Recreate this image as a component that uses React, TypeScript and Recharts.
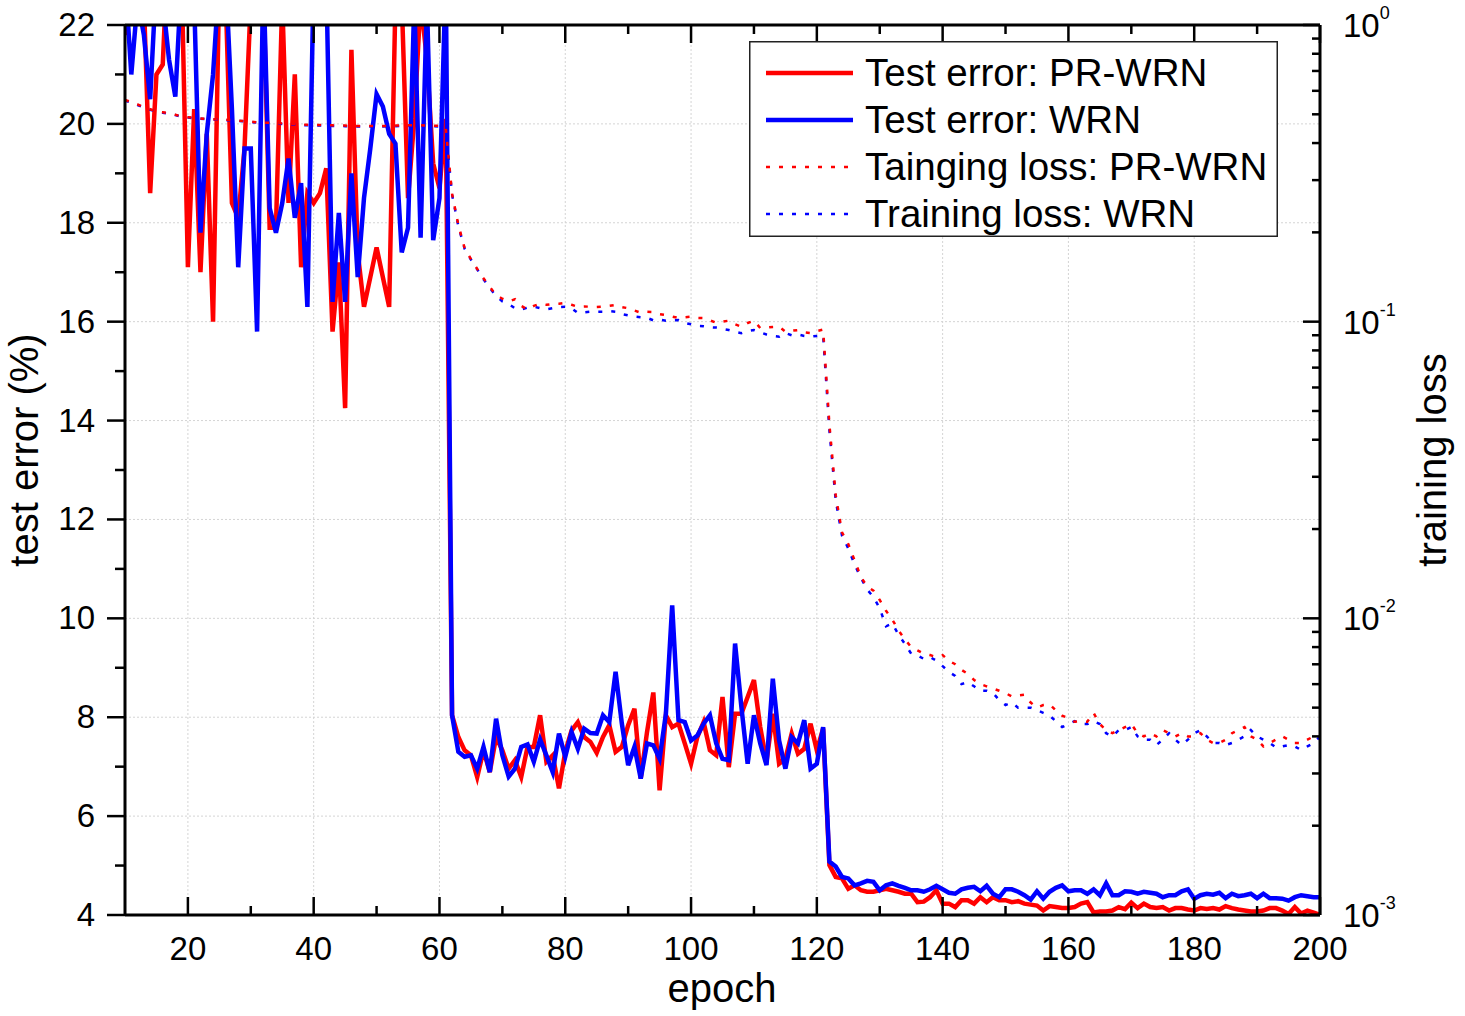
import { ComposedChart, Legend, Line, ReferenceLine, XAxis, YAxis } from "recharts";

const FONT = "'Liberation Sans', Arial, sans-serif";

// epochs on the x axis, 10 … 200
const epochs = Array.from({ length: 191 }, (_, i) => i + 10);

// test error (%), left axis
const prWrnError = [
  21.8, 23.0, 24.0, 22.5, 18.6, 21.0, 21.2, 24.0, 23.0, 23.0,
  17.1, 20.3, 17.0, 19.8, 16.0, 23.0, 22.6, 18.4, 18.1, 19.5,
  22.5, 23.0, 22.7, 17.9, 17.9, 22.5, 18.4, 21.0, 17.1, 18.6,
  18.4, 18.6, 19.1, 15.8, 17.2, 14.25, 21.5, 17.4, 16.3, 16.9,
  17.5, 16.9, 16.3, 22.5, 22.5, 18.5, 20.1, 22.5, 21.3, 19.2,
  18.7, 20.1, 8.04, 7.6, 7.33, 7.23, 6.79, 7.33, 6.89, 7.6,
  7.33, 6.96, 7.13, 6.79, 7.4, 7.4, 8.04, 7.1, 7.23, 6.56,
  7.3, 7.73, 7.9, 7.6, 7.5, 7.28, 7.6, 7.84, 7.3, 7.4,
  7.84, 8.17, 6.76, 7.7, 8.5, 6.52, 8.04, 7.8, 7.87, 7.47,
  7.06, 7.6, 7.9, 7.33, 7.23, 8.41, 6.99, 8.07, 8.07, 8.41,
  8.75, 7.8, 7.1, 8.07, 7.06, 7.16, 7.67, 7.26, 7.36, 7.87,
  7.33, 7.77, 5.01, 4.77, 4.74, 4.53, 4.6, 4.5, 4.47, 4.47,
  4.5, 4.53, 4.5, 4.47, 4.43, 4.43, 4.26, 4.27, 4.36, 4.5,
  4.23, 4.23, 4.16, 4.3, 4.3, 4.23, 4.36, 4.26, 4.36, 4.3,
  4.3, 4.26, 4.28, 4.23, 4.21, 4.19, 4.09, 4.18, 4.16, 4.14,
  4.14, 4.16, 4.23, 4.26, 4.05, 4.07, 4.07, 4.09, 4.16, 4.12,
  4.25, 4.14, 4.23, 4.16, 4.14, 4.16, 4.09, 4.14, 4.14, 4.11,
  4.09, 4.14, 4.12, 4.14, 4.11, 4.18, 4.14, 4.11, 4.09, 4.07,
  4.07, 4.09, 4.14, 4.14, 4.09, 4.02, 4.16, 4.03, 4.09, 4.05,
  4.0,
];

const wrnError = [
  23.0, 21.0, 22.5, 21.8, 20.5, 23.0, 22.5, 21.3, 20.55, 23.0,
  23.0, 22.5, 17.8, 19.8, 21.0, 23.0, 23.0, 20.3, 17.1, 19.5,
  19.5, 15.8, 23.0, 18.3, 17.8, 18.4, 19.3, 18.1, 18.8, 16.3,
  23.0, 23.0, 23.0, 16.4, 18.2, 16.4, 19.0, 16.9, 18.5, 19.5,
  20.6, 20.35, 19.8, 19.6, 17.4, 17.9, 22.5, 17.7, 22.5, 17.65,
  18.5, 23.0, 8.04, 7.3, 7.2, 7.23, 6.96, 7.4, 6.89, 7.97,
  7.23, 6.8, 6.96, 7.4, 7.45, 7.1, 7.55, 7.23, 6.89, 7.67,
  7.2, 7.7, 7.36, 7.77, 7.68, 7.67, 8.04, 7.9, 8.92, 7.87,
  7.03, 7.4, 6.76, 7.47, 7.43, 7.16, 8.07, 10.26, 7.94, 7.9,
  7.53, 7.63, 7.87, 8.04, 7.47, 7.16, 7.13, 9.49, 8.21, 7.06,
  8.04, 7.47, 7.03, 8.78, 7.53, 6.96, 7.6, 7.47, 7.94, 6.96,
  7.06, 7.8, 5.08, 4.98, 4.77, 4.74, 4.6, 4.64, 4.69, 4.67,
  4.5, 4.6, 4.64, 4.59, 4.55, 4.5, 4.5, 4.47, 4.52, 4.59,
  4.52, 4.45, 4.43, 4.52, 4.55, 4.57, 4.48, 4.59, 4.43, 4.36,
  4.52, 4.52, 4.47, 4.4, 4.31, 4.48, 4.33, 4.47, 4.55, 4.6,
  4.48, 4.5, 4.5, 4.43, 4.52, 4.4, 4.64, 4.4, 4.4, 4.48,
  4.47, 4.43, 4.47, 4.45, 4.43, 4.36, 4.4, 4.4, 4.48, 4.52,
  4.33, 4.4, 4.43, 4.41, 4.45, 4.34, 4.43, 4.38, 4.4, 4.43,
  4.34, 4.43, 4.34, 4.34, 4.33, 4.29, 4.36, 4.4, 4.38, 4.36,
  4.36,
];

// training loss, right (log) axis
const prWrnLoss = [
  0.559, 0.55, 0.54, 0.528, 0.52, 0.512, 0.508, 0.504, 0.498, 0.492,
  0.489, 0.486, 0.484, 0.482, 0.481, 0.48, 0.479, 0.478, 0.476, 0.474,
  0.472, 0.47, 0.469, 0.468, 0.467, 0.466, 0.464, 0.463, 0.462, 0.461,
  0.46, 0.46, 0.459, 0.459, 0.458, 0.458, 0.457, 0.457, 0.457, 0.457,
  0.457, 0.457, 0.457, 0.458, 0.458, 0.459, 0.46, 0.459, 0.458, 0.458,
  0.457, 0.45, 0.27, 0.212, 0.177, 0.1626, 0.1506, 0.14, 0.131, 0.123,
  0.1195, 0.117, 0.119, 0.113, 0.11, 0.113, 0.115, 0.114, 0.1147, 0.115,
  0.1156, 0.114, 0.1123, 0.1125, 0.1123, 0.112, 0.1123, 0.113, 0.1138, 0.112,
  0.111, 0.109, 0.1072, 0.108, 0.1078, 0.106, 0.1053, 0.104, 0.1029, 0.1035,
  0.104, 0.103, 0.1029, 0.101, 0.0992, 0.1, 0.1008, 0.098, 0.0962, 0.099,
  0.1008, 0.0952, 0.0955, 0.096, 0.0962, 0.0925, 0.0932, 0.0937, 0.092, 0.0915,
  0.093, 0.094, 0.045, 0.026, 0.0195, 0.0178, 0.0157, 0.0138, 0.0128, 0.0124,
  0.01153, 0.0106, 0.0099, 0.0091, 0.0085, 0.008, 0.0078, 0.0076, 0.00752, 0.0074,
  0.00752, 0.0072, 0.007, 0.0067, 0.0065, 0.0062, 0.006, 0.0059, 0.0058, 0.0057,
  0.0056, 0.00545, 0.0055, 0.00553, 0.0052, 0.005, 0.0051, 0.00513, 0.0049, 0.0047,
  0.0046, 0.00448, 0.0045, 0.00448, 0.0048, 0.0044, 0.0042, 0.0041, 0.0042, 0.0043,
  0.0044, 0.0041, 0.004, 0.0041, 0.004, 0.0042, 0.0041, 0.004, 0.0041, 0.004,
  0.004, 0.0041, 0.0039, 0.0038, 0.0038, 0.0039, 0.0041, 0.0042, 0.0043, 0.004,
  0.0039, 0.0037, 0.0038, 0.0039, 0.004, 0.0039, 0.0038, 0.0038, 0.0039, 0.004,
  0.004,
];

const wrnLoss = [
  0.556, 0.548, 0.537, 0.527, 0.518, 0.511, 0.506, 0.502, 0.497, 0.491,
  0.488, 0.485, 0.483, 0.481, 0.48, 0.479, 0.478, 0.477, 0.475, 0.473,
  0.471, 0.469, 0.468, 0.467, 0.466, 0.464, 0.462, 0.461, 0.46, 0.459,
  0.459, 0.458, 0.458, 0.457, 0.457, 0.456, 0.456, 0.455, 0.455, 0.455,
  0.455, 0.455, 0.456, 0.456, 0.457, 0.457, 0.458, 0.457, 0.457, 0.456,
  0.455, 0.445, 0.268, 0.21, 0.176, 0.162, 0.15, 0.139, 0.13, 0.122,
  0.117, 0.1147, 0.111, 0.11, 0.1115, 0.1123, 0.111, 0.11, 0.111, 0.112,
  0.1123, 0.111, 0.107, 0.1075, 0.108, 0.108, 0.108, 0.1085, 0.108, 0.106,
  0.105, 0.104, 0.1035, 0.103, 0.101, 0.1015, 0.1008, 0.101, 0.1012, 0.099,
  0.098, 0.0967, 0.0965, 0.0958, 0.0955, 0.0945, 0.0937, 0.0925, 0.0915, 0.093,
  0.0937, 0.092, 0.0905, 0.0895, 0.089, 0.0915, 0.09, 0.0905, 0.0895, 0.089,
  0.0895, 0.09, 0.043, 0.025, 0.019, 0.0172, 0.0152, 0.0137, 0.0125, 0.0118,
  0.0108, 0.0094, 0.0096, 0.0088, 0.0082, 0.0076, 0.0075, 0.0073, 0.0074, 0.0072,
  0.0069, 0.0066, 0.0064, 0.006, 0.0061, 0.0059, 0.0057, 0.0057, 0.0056, 0.0053,
  0.0051, 0.0052, 0.005, 0.005, 0.005, 0.0049, 0.0048, 0.0047, 0.0045, 0.0043,
  0.0044, 0.0045, 0.0044, 0.0044, 0.0045, 0.0044, 0.0041, 0.004, 0.0042, 0.0042,
  0.0043, 0.004, 0.0039, 0.0039, 0.00374, 0.0039, 0.0041, 0.0039, 0.00374, 0.0039,
  0.0041, 0.0042, 0.004, 0.0038, 0.0038, 0.00374, 0.0038, 0.0039, 0.004, 0.0042,
  0.004, 0.0039, 0.0038, 0.00367, 0.0037, 0.00374, 0.0037, 0.0036, 0.0037, 0.0038,
  0.004,
];

// axis ticks (labels only on the majors) and grid positions
const epochTicks = [20, 30, 40, 50, 60, 70, 80, 90, 100, 110, 120, 130, 140, 150, 160, 170, 180, 190, 200];
const epochGrid = [20, 40, 60, 80, 100, 120, 140, 160, 180];
const errorTicks = [4, 5, 6, 7, 8, 9, 10, 11, 12, 13, 14, 15, 16, 17, 18, 19, 20, 21, 22];
const errorGrid = [6, 8, 10, 12, 14, 16, 18, 20];
const lossTicks = [
  0.001, 0.002, 0.003, 0.004, 0.005, 0.006, 0.007, 0.008, 0.009,
  0.01, 0.02, 0.03, 0.04, 0.05, 0.06, 0.07, 0.08, 0.09,
  0.1, 0.2, 0.3, 0.4, 0.5, 0.6, 0.7, 0.8, 0.9, 1,
];
const lossDecades = [0.001, 0.01, 0.1, 1];
const lossExponents = ["-3", "-2", "-1", "0"];

// legend order
const series = [
  { key: "prWrnError", name: "Test error: PR-WRN", color: "#ff0000", axis: "left", dashed: false },
  { key: "wrnError", name: "Test error: WRN", color: "#0000ff", axis: "left", dashed: false },
  { key: "prWrnLoss", name: "Tainging loss: PR-WRN", color: "#ff0000", axis: "right", dashed: true },
  { key: "wrnLoss", name: "Training loss: WRN", color: "#0000ff", axis: "right", dashed: true },
];
// paint order: solid curves first, red loss drawn last so it sits over the blue one
const drawOrder = [series[0], series[1], series[3], series[2]];

const rows = epochs.map((epoch, i) => ({
  epoch,
  prWrnError: prWrnError[i],
  wrnError: wrnError[i],
  prWrnLoss: prWrnLoss[i],
  wrnLoss: wrnLoss[i],
}));

const TICK_FONT = 33;
const axisLine = { stroke: "#000", strokeWidth: 3 };

function BottomTick({ x, y, payload }: any) {
  const major = payload.value % 20 === 0;
  return (
    <g>
      <line x1={x} x2={x} y1={y} y2={y - (major ? 18 : 9)} stroke="#000" strokeWidth={2.5} />
      {major && (
        <text x={x} y={y + 45} textAnchor="middle" fontSize={TICK_FONT} fontFamily={FONT} fill="#000">
          {payload.value}
        </text>
      )}
    </g>
  );
}

function TopTick({ x, y, payload }: any) {
  const major = payload.value % 20 === 0;
  return <line x1={x} x2={x} y1={y} y2={y + (major ? 18 : 9)} stroke="#000" strokeWidth={2.5} />;
}

function LeftTick({ x, y, payload }: any) {
  const major = payload.value % 2 === 0;
  return (
    <g>
      <line x1={x} x2={x - (major ? 18 : 10)} y1={y} y2={y} stroke="#000" strokeWidth={2.5} />
      {major && (
        <text x={x - 30} y={y + 11} textAnchor="end" fontSize={TICK_FONT} fontFamily={FONT} fill="#000">
          {payload.value}
        </text>
      )}
    </g>
  );
}

function RightTick({ x, y, payload }: any) {
  const idx = lossDecades.indexOf(payload.value);
  const major = idx >= 0;
  return (
    <g>
      <line x1={x} x2={x - (major ? 17 : 8)} y1={y} y2={y} stroke="#000" strokeWidth={2.5} />
      {major && (
        <text x={x + 23} y={y + 12} fontSize={TICK_FONT} fontFamily={FONT} fill="#000">
          10
          <tspan fontSize={18} dy={-18}>
            {lossExponents[idx]}
          </tspan>
        </text>
      )}
    </g>
  );
}

function LegendBox() {
  return (
    <svg width={529} height={196} style={{ display: "block" }}>
      <rect x={0.75} y={0.75} width={527.5} height={194.5} fill="#fff" stroke="#222" strokeWidth={1.5} />
      {series.map((s, i) => {
        const cy = 32 + i * 47;
        return (
          <g key={s.key}>
            <line
              x1={17}
              x2={104}
              y1={cy}
              y2={cy}
              stroke={s.color}
              strokeWidth={s.dashed ? 2.5 : 4.5}
              strokeDasharray={s.dashed ? "4 9" : undefined}
            />
            <text x={116} y={cy + 13} fontSize={38.5} fontFamily={FONT} fill="#000">
              {s.name}
            </text>
          </g>
        );
      })}
    </svg>
  );
}

export default function App() {
  return (
    <div style={{ width: 1465, height: 1016, background: "#fff" }}>
      <style>{`body { margin: 0; }`}</style>
      <ComposedChart width={1465} height={1016} data={rows} margin={{ top: 0, right: 0, bottom: 0, left: 0 }}>
        <XAxis
          xAxisId="x"
          dataKey="epoch"
          type="number"
          domain={[10, 200]}
          allowDataOverflow
          ticks={epochTicks}
          interval={0}
          height={101}
          tickSize={0}
          tickMargin={0}
          tickLine={false}
          axisLine={axisLine}
          tick={BottomTick}
          label={() => (
            <text x={722} y={1002} textAnchor="middle" fontSize={40} fontFamily={FONT} fill="#000">
              epoch
            </text>
          )}
        />
        <XAxis
          xAxisId="top"
          orientation="top"
          dataKey="epoch"
          type="number"
          domain={[10, 200]}
          allowDataOverflow
          ticks={epochTicks}
          interval={0}
          height={25}
          tickSize={0}
          tickMargin={0}
          tickLine={false}
          axisLine={axisLine}
          tick={TopTick}
        />
        <YAxis
          yAxisId="left"
          type="number"
          domain={[4, 22]}
          allowDataOverflow
          ticks={errorTicks}
          interval={0}
          width={125}
          tickSize={0}
          tickMargin={0}
          tickLine={false}
          axisLine={axisLine}
          tick={LeftTick}
          label={() => (
            <text
              x={38}
              y={450}
              transform="rotate(-90 38 450)"
              textAnchor="middle"
              fontSize={40}
              fontFamily={FONT}
              fill="#000"
            >
              test error (%)
            </text>
          )}
        />
        <YAxis
          yAxisId="right"
          orientation="right"
          type="number"
          scale="log"
          domain={[0.001, 1]}
          allowDataOverflow
          ticks={lossTicks}
          interval={0}
          width={145}
          tickSize={0}
          tickMargin={0}
          tickLine={false}
          axisLine={axisLine}
          tick={RightTick}
          label={() => (
            <text
              x={1446}
              y={460}
              transform="rotate(-90 1446 460)"
              textAnchor="middle"
              fontSize={40}
              fontFamily={FONT}
              fill="#000"
            >
              training loss
            </text>
          )}
        />

        {epochGrid.map((v) => (
          <ReferenceLine
            key={`gx-${v}`}
            x={v}
            xAxisId="x"
            yAxisId="left"
            stroke="#d4d4d4"
            strokeWidth={1}
            strokeDasharray="2 2"
          />
        ))}
        {errorGrid.map((v) => (
          <ReferenceLine
            key={`gy-${v}`}
            y={v}
            xAxisId="x"
            yAxisId="left"
            stroke="#d4d4d4"
            strokeWidth={1}
            strokeDasharray="2 2"
          />
        ))}

        {drawOrder.map((s) => (
          <Line
            key={s.key}
            xAxisId="x"
            yAxisId={s.axis}
            dataKey={s.key}
            name={s.name}
            type="linear"
            stroke={s.color}
            strokeWidth={s.dashed ? 2.5 : 4.5}
            strokeDasharray={s.dashed ? "4 9" : undefined}
            dot={false}
            activeDot={false}
            isAnimationActive={false}
          />
        ))}

        <Legend
          layout="vertical"
          align="center"
          verticalAlign="middle"
          wrapperStyle={{ left: 749, top: 41, width: 529, height: 196 }}
          content={() => <LegendBox />}
        />
      </ComposedChart>
    </div>
  );
}
